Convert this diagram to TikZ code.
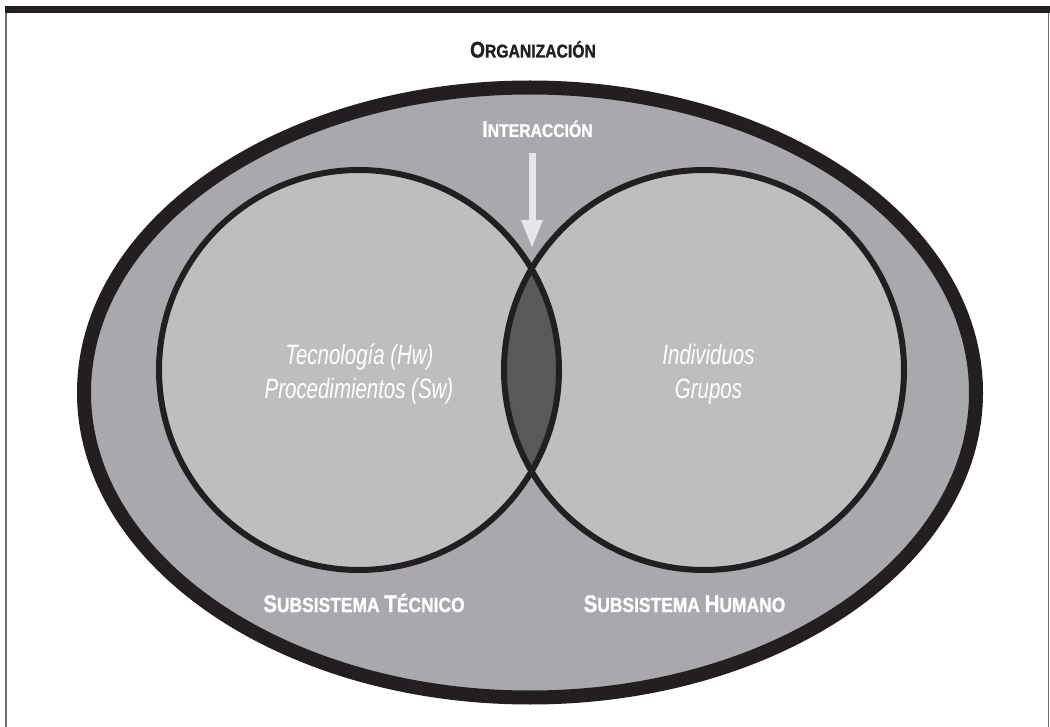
\documentclass[tikz,border=0pt]{standalone}
\usepackage{fontspec}
\usetikzlibrary{arrows.meta}
\newfontfamily\condB[FakeStretch=0.85,BoldFeatures={FakeBold=1.2}]{Liberation Sans}
\newfontfamily\condI[FakeStretch=0.73]{Liberation Sans}
\definecolor{ink}{HTML}{231F20}
\definecolor{outerfill}{HTML}{A7A9AC}
\definecolor{circfill}{HTML}{BCBEC0}
\definecolor{lensfill}{HTML}{58595B}
\definecolor{arrowfill}{HTML}{E6E7E8}
\definecolor{framegray}{HTML}{6D6E71}
\newcommand\capsmix[4]{{\fontsize{#1}{#1}\selectfont #3}{\fontsize{#2}{#2}\selectfont #4}}
\begin{document}
\begin{tikzpicture}[x=1pt,y=-1pt,
  framestyle/.style={framegray, line width=1.6},
  scblack/.style={anchor=base, text=ink, font=\condB\bfseries, inner sep=0pt},
  scwhite/.style={anchor=base, text=white, font=\condB\bfseries, inner sep=0pt},
  itwhite/.style={anchor=base, text=white, font=\condI\itshape\fontsize{28}{28}\selectfont, inner sep=0pt},
  circstroke/.style={draw=ink, line width=6},
  arrowstyle/.style={arrowfill, line width=7, -{Triangle[width=22pt,length=27pt,line width=0pt]}}]
\useasboundingbox (0,0) rectangle (1050,727);
\fill[white] (0,0) rectangle (1050,727);
% frame
\draw[framestyle] (6,13) -- (6,727);
\draw[framestyle] (1048.5,13) -- (1048.5,727);
\fill[ink] (5,6) rectangle (1050,13);
% organisation ellipse
\coordinate (O) at (530,392.5);
\filldraw[fill=outerfill, draw=ink, line width=14] (O) ellipse [x radius=446, y radius=305];
% subsystems
\coordinate (L) at (359,370);
\coordinate (R) at (704,370);
\fill[circfill] (L) circle [radius=200];
\fill[circfill] (R) circle [radius=200];
\begin{scope}
  \clip (L) circle [radius=200];
  \fill[lensfill] (R) circle [radius=200];
\end{scope}
\draw[circstroke] (L) circle [radius=200];
\draw[circstroke] (R) circle [radius=200];
% arrow
\coordinate (arrS) at (532,153);
\coordinate (arrE) at (532,247);
\draw[arrowstyle] (arrS) -- (arrE);
% labels
\node[scblack] (org) at (533,57.5) {\capsmix{22.5}{18.5}{O}{RGANIZACIÓN}};
\node[scwhite] (inter) at (537.5,137) {\capsmix{23}{18.5}{I}{NTERACCIÓN}};
\node[scwhite] (subt) at (364,612) {\capsmix{24}{20.5}{S}{UBSISTEMA }\capsmix{24}{20.5}{T}{ÉCNICO}};
\node[scwhite] (subh) at (684.5,612) {\capsmix{24}{20.5}{S}{UBSISTEMA }\capsmix{24}{20.5}{H}{UMANO}};
\node[itwhite] (tec) at (359.5,364.6) {Tecnología (Hw)};
\node[itwhite] (proc) at (359,398.6) {Procedimientos (Sw)};
\node[itwhite] (ind) at (708.5,364.6) {Individuos};
\node[itwhite] (gru) at (708.5,398.6) {Grupos};
\end{tikzpicture}
\end{document}
